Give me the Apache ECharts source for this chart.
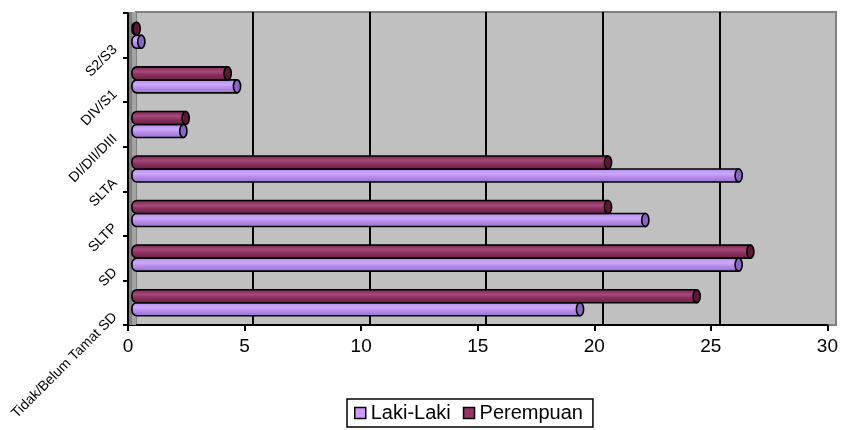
<!DOCTYPE html>
<html>
<head>
<meta charset="utf-8">
<script src="https://cdn.jsdelivr.net/npm/echarts@6/dist/echarts.min.js"></script>
<style>
  html, body { margin: 0; padding: 0; background: #ffffff; }
  #chart { width: 841px; height: 430px; }
</style>
</head>
<body>
<div id="chart"></div>
<script>
// Education level categories, bottom to top
var categories = ['Tidak/Belum Tamat SD', 'SD', 'SLTP', 'SLTA', 'DI/DII/DIII', 'DIV/S1', 'S2/S3'];
// Percentages per group
var lakiLaki = [19.2, 26.0, 22.0, 26.0, 2.2, 4.5, 0.4];
var perempuan = [24.2, 26.5, 20.4, 20.4, 2.3, 4.1, 0.2];
// Value axis range and step
var valueMin = 0;
var valueMax = 30;
var valueStep = 5;

var FONT = 'Liberation Sans, Arial, sans-serif';

// Cylinder-style horizontal bar: body with vertical shading plus an elliptical end cap
function cylinderRenderer(upper, stops, capColor) {
  return function (params, api) {
    var cat = api.value(1);
    var val = api.value(0);
    var start = api.coord([0, cat]);
    var end = api.coord([val, cat]);
    var h = 13;
    var y = upper ? start[1] - h : start[1];
    var x0 = start[0];
    var x1 = end[0];
    return {
      type: 'group',
      children: [
        {
          type: 'rect',
          shape: { x: x0, y: y, width: Math.max(x1 - x0, 0.5), height: h, r: [5, 0, 0, 5] },
          style: {
            fill: { type: 'linear', x: 0, y: 0, x2: 0, y2: 1, colorStops: stops },
            stroke: '#000000',
            lineWidth: 1.6
          }
        },
        {
          type: 'ellipse',
          shape: { cx: x1, cy: y + h / 2, rx: 3.6, ry: h / 2 },
          style: { fill: capColor, stroke: '#000000', lineWidth: 1.6 }
        }
      ]
    };
  };
}

var lakiStops = [
  { offset: 0, color: '#9a76d6' },
  { offset: 0.18, color: '#bf98f2' },
  { offset: 0.38, color: '#cca8f8' },
  { offset: 0.6, color: '#b88ceb' },
  { offset: 1, color: '#946ecf' }
];
var perempuanStops = [
  { offset: 0, color: '#6a1e44' },
  { offset: 0.18, color: '#8e3364' },
  { offset: 0.38, color: '#a34b79' },
  { offset: 0.6, color: '#8a2f5f' },
  { offset: 1, color: '#671d42' }
];

var chart = echarts.init(document.getElementById('chart'), null, { renderer: 'canvas' });

var option = {
  backgroundColor: '#ffffff',
  animation: false,
  textStyle: { fontFamily: FONT },
  grid: [
    // back wall with gridlines
    { left: 136, top: 12, width: 700, height: 313, show: true, backgroundColor: '#C0C0C0', borderColor: '#808080', borderWidth: 2 },
    // front axes
    { left: 128, top: 13, width: 700, height: 312 },
    // category labels
    { left: 128, top: 3, width: 700, height: 312 },
    // bars
    { left: 132, top: 13, width: 700, height: 312 }
  ],
  xAxis: [
    {
      gridIndex: 0, type: 'value', min: valueMin, max: valueMax, interval: valueStep,
      axisLine: { show: false }, axisTick: { show: false }, axisLabel: { show: false },
      splitLine: { show: true, showMinLine: false, showMaxLine: false, lineStyle: { color: '#000000', width: 2 } }
    },
    {
      gridIndex: 1, type: 'value', min: valueMin, max: valueMax, interval: valueStep,
      axisLine: { show: true, lineStyle: { color: '#000000', width: 2 } },
      axisTick: { show: true, length: 6, lineStyle: { color: '#000000', width: 2 } },
      axisLabel: { show: true, margin: 12, color: '#000000', fontSize: 19, fontFamily: FONT },
      splitLine: { show: false }
    },
    { gridIndex: 2, type: 'value', min: valueMin, max: valueMax, show: false },
    { gridIndex: 3, type: 'value', min: valueMin, max: valueMax, show: false }
  ],
  yAxis: [
    { gridIndex: 0, type: 'value', min: 0, max: 7, show: false },
    {
      gridIndex: 1, type: 'value', min: 0, max: 7, interval: 1,
      axisLine: { show: true, lineStyle: { color: '#000000', width: 2 } },
      axisTick: { show: true, length: 5, lineStyle: { color: '#000000', width: 2 } },
      axisLabel: { show: false },
      splitLine: { show: false }
    },
    {
      gridIndex: 2, type: 'value', min: 0, max: 7, interval: 1,
      axisLine: { show: false }, axisTick: { show: false }, splitLine: { show: false },
      axisLabel: {
        show: true, rotate: 45, margin: 13, color: '#000000', fontSize: 14, fontFamily: FONT,
        formatter: function (v) { return categories[v] || ''; }
      }
    },
    { gridIndex: 3, type: 'category', data: categories, show: false }
  ],
  graphic: [
    // left side wall of the plot box
    { type: 'rect', z: 1, shape: { x: 129, y: 12, width: 7, height: 313 }, style: { fill: '#a3a3a3' } },
    { type: 'rect', z: 1, shape: { x: 129, y: 12, width: 3, height: 313 }, style: { fill: '#7f7f7f' } }
  ],
  legend: {
    left: 347, top: 399,
    orient: 'horizontal',
    icon: 'rect',
    itemWidth: 11, itemHeight: 11, itemGap: 12,
    padding: [4, 10, 4, 7],
    borderColor: '#000000', borderWidth: 1.5,
    textStyle: { color: '#000000', fontSize: 20, fontFamily: FONT },
    data: [
      { name: 'Laki-Laki', itemStyle: { color: '#CC99FF', borderColor: '#000000', borderWidth: 1.5 } },
      { name: 'Perempuan', itemStyle: { color: '#993366', borderColor: '#000000', borderWidth: 1.5 } }
    ]
  },
  series: [
    {
      name: 'Laki-Laki', type: 'custom', xAxisIndex: 3, yAxisIndex: 3, z: 3,
      itemStyle: { color: '#CC99FF' },
      encode: { x: 0, y: 1 },
      renderItem: cylinderRenderer(false, lakiStops, '#8a66c4'),
      data: lakiLaki.map(function (v, i) { return [v, i]; })
    },
    {
      name: 'Perempuan', type: 'custom', xAxisIndex: 3, yAxisIndex: 3, z: 3,
      itemStyle: { color: '#993366' },
      encode: { x: 0, y: 1 },
      renderItem: cylinderRenderer(true, perempuanStops, '#5c1838'),
      data: perempuan.map(function (v, i) { return [v, i]; })
    }
  ]
};

chart.setOption(option);
</script>
</body>
</html>
